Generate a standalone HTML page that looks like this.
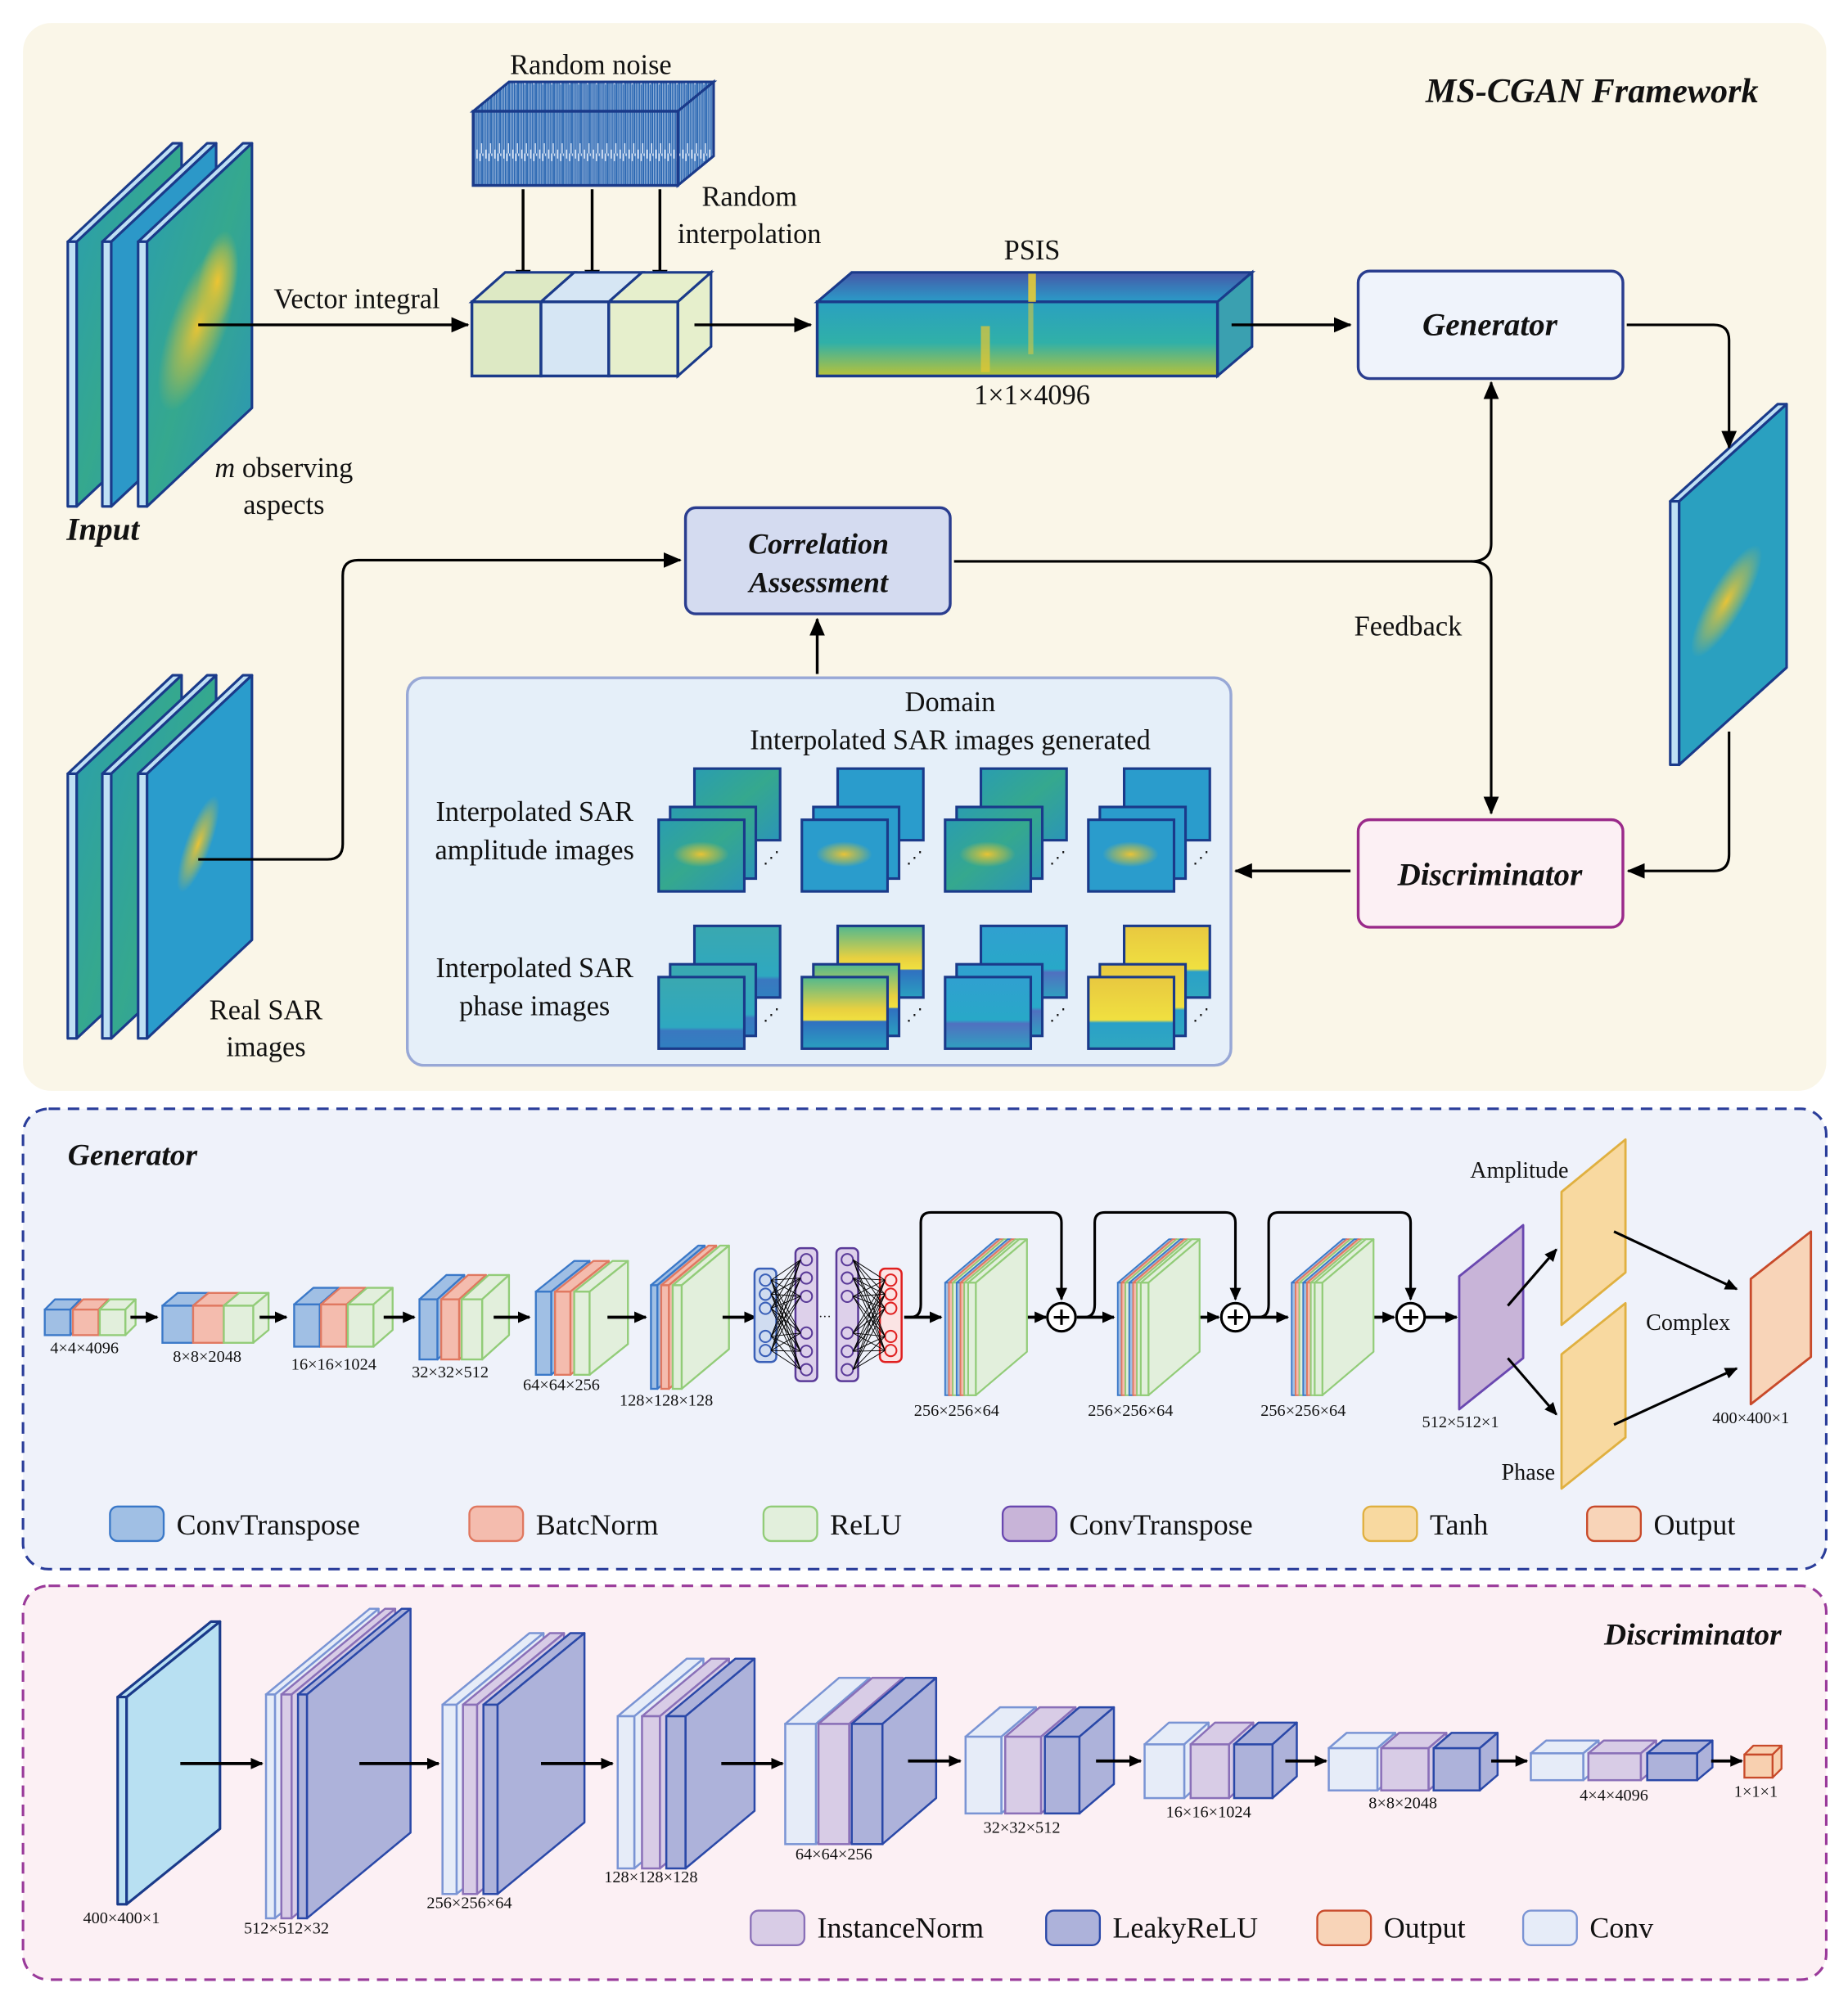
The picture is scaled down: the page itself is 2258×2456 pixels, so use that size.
<!DOCTYPE html>
<html><head><meta charset="utf-8">
<style>
html,body{margin:0;padding:0;background:#fff;}
svg{display:block;}
svg, svg text{font-family:"Liberation Serif","Times New Roman",Times,serif;}
text{fill:#111;}
.bi{font-weight:bold;font-style:italic;}
</style></head>
<body>
<svg id="s" xmlns="http://www.w3.org/2000/svg" width="2258" height="2456" viewBox="0 0 1445 1571.7" preserveAspectRatio="none" font-family="Liberation Serif, Times New Roman, serif">
<defs>
<marker id="ar" markerWidth="14" markerHeight="12" refX="13" refY="6" orient="auto" markerUnits="userSpaceOnUse"><path d="M0,0 L14,6 L0,12 Z" fill="#000"/></marker>
<marker id="as" markerWidth="10" markerHeight="9" refX="9" refY="4.5" orient="auto" markerUnits="userSpaceOnUse"><path d="M0,0 L10,4.5 L0,9 Z" fill="#000"/></marker>
<linearGradient id="sar" x1="0" y1="0" x2="1" y2="1"><stop offset="0" stop-color="#2a9db0"/><stop offset="0.5" stop-color="#35a88e"/><stop offset="1" stop-color="#2b95b8"/></linearGradient>
<radialGradient id="blob" cx="0.5" cy="0.5" r="0.5"><stop offset="0" stop-color="#f2c530" stop-opacity="0.95"/><stop offset="0.6" stop-color="#c8c040" stop-opacity="0.5"/><stop offset="1" stop-color="#c8c040" stop-opacity="0"/></radialGradient>
<linearGradient id="psis" x1="0" y1="0" x2="0" y2="1"><stop offset="0" stop-color="#2aa0c0"/><stop offset="0.55" stop-color="#30b0a8"/><stop offset="1" stop-color="#b8c238"/></linearGradient>
<linearGradient id="psistop" x1="0" y1="0" x2="0" y2="1"><stop offset="0" stop-color="#4658a8"/><stop offset="1" stop-color="#2a9cc8"/></linearGradient>
<pattern id="noise" width="7" height="60" patternUnits="userSpaceOnUse"><rect width="7" height="60" fill="#c8d8ee"/><path d="M0.7,0V60M2,4V57M3.2,0V60M4.4,6V60M5.6,0V52M6.5,2V60" stroke="#1f5fae" stroke-width="0.8"/></pattern>
<linearGradient id="ph1" x1="0" y1="0" x2="0" y2="1"><stop offset="0" stop-color="#3aa8b0"/><stop offset="0.7" stop-color="#2ea8c0"/><stop offset="0.75" stop-color="#3a78c0"/><stop offset="1" stop-color="#3080c0"/></linearGradient>
<linearGradient id="ph2" x1="0" y1="0" x2="0" y2="1"><stop offset="0" stop-color="#50b890"/><stop offset="0.45" stop-color="#e8d040"/><stop offset="0.6" stop-color="#f0e040"/><stop offset="0.62" stop-color="#3070c0"/><stop offset="1" stop-color="#2aa0c0"/></linearGradient>
<linearGradient id="ph3" x1="0" y1="0" x2="0" y2="1"><stop offset="0" stop-color="#30a0d0"/><stop offset="0.6" stop-color="#28a8c8"/><stop offset="0.65" stop-color="#5070c0"/><stop offset="1" stop-color="#30a0c0"/></linearGradient>
<linearGradient id="ph4" x1="0" y1="0" x2="0" y2="1"><stop offset="0" stop-color="#e8c840"/><stop offset="0.6" stop-color="#f0e040"/><stop offset="0.64" stop-color="#2aa0c8"/><stop offset="1" stop-color="#30a8c0"/></linearGradient>
</defs>

<rect x="18" y="18" width="1410" height="835" rx="22" fill="#faf6e8"/>
<text x="1375" y="80" font-size="27" class="bi" text-anchor="end">MS-CGAN Framework</text>

<g id="dyn"></g>

<text x="52" y="422" font-size="25" class="bi">Input</text>
<text x="222" y="373" font-size="22" text-anchor="middle"><tspan font-style="italic">m</tspan> observing</text>
<text x="222" y="402" font-size="22" text-anchor="middle">aspects</text>
<line x1="155" y1="254" x2="366" y2="254" stroke="#000" stroke-width="2.2" marker-end="url(#ar)"/>
<text x="279" y="241" font-size="22" text-anchor="middle">Vector integral</text>

<text x="462" y="58" font-size="22" text-anchor="middle">Random noise</text>
<polygon points="370,87 398,64 558,64 530,87" fill="url(#noise)" stroke="#1a3a8a" stroke-width="2"/>
<polygon points="530,87 558,64 558,122 530,145" fill="url(#noise)" stroke="#1a3a8a" stroke-width="2"/>
<rect x="370" y="87" width="160" height="58" fill="url(#noise)" stroke="#1a3a8a" stroke-width="2.2"/>
<line x1="409" y1="148" x2="409" y2="224" stroke="#000" stroke-width="2.2" marker-end="url(#ar)"/>
<line x1="463" y1="148" x2="463" y2="224" stroke="#000" stroke-width="2.2" marker-end="url(#ar)"/>
<line x1="516" y1="148" x2="516" y2="224" stroke="#000" stroke-width="2.2" marker-end="url(#ar)"/>
<text x="586" y="161" font-size="22" text-anchor="middle">Random</text>
<text x="586" y="190" font-size="22" text-anchor="middle">interpolation</text>

<polygon points="369,236 395,213 449,213 423,236" fill="#dde9c4" stroke="#1a3a8a" stroke-width="2"/>
<polygon points="423,236 449,213 502,213 476,236" fill="#d6e6f4" stroke="#1a3a8a" stroke-width="2"/>
<polygon points="476,236 502,213 556,213 530,236" fill="#e6efcc" stroke="#1a3a8a" stroke-width="2"/>
<polygon points="530,236 556,213 556,271 530,294" fill="#e6efcc" stroke="#1a3a8a" stroke-width="2"/>
<rect x="369" y="236" width="54" height="58" fill="#dde9c4" stroke="#1a3a8a" stroke-width="2.2"/>
<rect x="423" y="236" width="53" height="58" fill="#d6e6f4" stroke="#1a3a8a" stroke-width="2.2"/>
<rect x="476" y="236" width="54" height="58" fill="#e6efcc" stroke="#1a3a8a" stroke-width="2.2"/>
<line x1="543" y1="254" x2="634" y2="254" stroke="#000" stroke-width="2.2" marker-end="url(#ar)"/>

<text x="807" y="203" font-size="22" text-anchor="middle">PSIS</text>
<polygon points="639,236 666,213 979,213 952,236" fill="url(#psistop)" stroke="#1a3a8a" stroke-width="2"/>
<polygon points="952,236 979,213 979,271 952,294" fill="#3aa0b0" stroke="#1a3a8a" stroke-width="2"/>
<rect x="639" y="236" width="313" height="58" fill="url(#psis)" stroke="#1a3a8a" stroke-width="2.2"/>
<rect x="804" y="214" width="6" height="22" fill="#f0d030" opacity="0.85"/>
<rect x="767" y="255" width="7" height="36" fill="#e8c830" opacity="0.7"/>
<rect x="804" y="237" width="4" height="40" fill="#d8c840" opacity="0.6"/>
<text x="807" y="316" font-size="22" text-anchor="middle">1×1×4096</text>
<line x1="963" y1="254" x2="1056" y2="254" stroke="#000" stroke-width="2.2" marker-end="url(#ar)"/>

<rect x="1062" y="212" width="207" height="84" rx="9" fill="#eff3fb" stroke="#2a3d8f" stroke-width="2.2"/>
<text x="1165" y="262" font-size="25" class="bi" text-anchor="middle">Generator</text>
<path d="M1272,254 H1340 Q1352,254 1352,266 V350" fill="none" stroke="#000" stroke-width="2" marker-end="url(#ar)"/>
<path d="M1352,572 V668 Q1352,681 1340,681 H1273" fill="none" stroke="#000" stroke-width="2" marker-end="url(#ar)"/>

<rect x="1062" y="641" width="207" height="84" rx="9" fill="#fcf0f4" stroke="#9a2a8a" stroke-width="2.2"/>
<text x="1165" y="692" font-size="25" class="bi" text-anchor="middle">Discriminator</text>
<line x1="1056" y1="681" x2="966" y2="681" stroke="#000" stroke-width="2.2" marker-end="url(#ar)"/>

<rect x="536" y="397" width="207" height="83" rx="8" fill="#d4dbf0" stroke="#2a3d8f" stroke-width="2.2"/>
<text x="640" y="433" font-size="23" class="bi" text-anchor="middle">Correlation</text>
<text x="640" y="463" font-size="23" class="bi" text-anchor="middle">Assessment</text>
<path d="M746,439 H1150 Q1166,439 1166,425 V299" fill="none" stroke="#000" stroke-width="2" marker-end="url(#ar)"/>
<path d="M1150,439 Q1166,439 1166,453 V636" fill="none" stroke="#000" stroke-width="2" marker-end="url(#ar)"/>
<text x="1101" y="497" font-size="22" text-anchor="middle">Feedback</text>
<path d="M155,672 H256 Q268,672 268,660 V450 Q268,438 280,438 H532" fill="none" stroke="#000" stroke-width="2" marker-end="url(#ar)"/>
<line x1="639" y1="527" x2="639" y2="484" stroke="#000" stroke-width="2.2" marker-end="url(#ar)"/>

<text x="208" y="797" font-size="22" text-anchor="middle">Real SAR</text>
<text x="208" y="826" font-size="22" text-anchor="middle">images</text>

<rect x="318.5" y="530" width="644" height="303" rx="13" fill="#e5eff9" stroke="#98a8d6" stroke-width="2.2"/>
<text x="743" y="556" font-size="22" text-anchor="middle">Domain</text>
<text x="743" y="586" font-size="22" text-anchor="middle">Interpolated SAR images generated</text>
<text x="418" y="642" font-size="22" text-anchor="middle">Interpolated SAR</text>
<text x="418" y="672" font-size="22" text-anchor="middle">amplitude images</text>
<text x="418" y="764" font-size="22" text-anchor="middle">Interpolated SAR</text>
<text x="418" y="794" font-size="22" text-anchor="middle">phase images</text>

<rect x="18" y="867" width="1410" height="360" rx="20" fill="#eff2fa" stroke="#2a3d9a" stroke-width="2" stroke-dasharray="9,6"/>
<text x="53" y="911" font-size="24" class="bi">Generator</text>

<rect x="18" y="1240" width="1410" height="308" rx="20" fill="#fcf0f4" stroke="#9a3a9a" stroke-width="2" stroke-dasharray="9,6"/>
<text x="1393" y="1286" font-size="24" class="bi" text-anchor="end">Discriminator</text>

<g id="dyn2"></g>
</svg>
<script>
var NS="http://www.w3.org/2000/svg";
var g=document.getElementById("dyn"), g2=document.getElementById("dyn2");
function el(p,tag,a,txt){var e=document.createElementNS(NS,tag);for(var k in a)e.setAttribute(k,a[k]);if(txt!==undefined)e.textContent=txt;p.appendChild(e);return e;}
function poly(p,pts,fill,stroke,sw){return el(p,"polygon",{points:pts.map(function(q){return q.join(",")}).join(" "),fill:fill,stroke:stroke,"stroke-width":sw||1.5,"stroke-linejoin":"round"});}
function box(p,x,y,w,h,dx,dy,fill,stroke,sw,sideFill){
  poly(p,[[x,y],[x+dx,y+dy],[x+w+dx,y+dy],[x+w,y]],fill,stroke,sw);
  poly(p,[[x+w,y],[x+w+dx,y+dy],[x+w+dx,y+h+dy],[x+w,y+h]],sideFill||fill,stroke,sw);
  el(p,"rect",{x:x,y:y,width:w,height:h,fill:fill,stroke:stroke,"stroke-width":sw||1.5});
}
function sheet(p,x0,yb,yt,dx,dy,edge,face,stroke,blobs){
  var e=7;
  poly(p,[[x0,yt],[x0+e,yt],[x0+e+dx,yt+dy],[x0+dx,yt+dy]],edge,stroke,2);
  poly(p,[[x0,yb],[x0,yt],[x0+e,yt],[x0+e,yb]],edge,stroke,2);
  poly(p,[[x0+e,yb],[x0+e,yt],[x0+e+dx,yt+dy],[x0+e+dx,yb+dy]],face,stroke,2);
  (blobs||[]).forEach(function(b){el(p,"ellipse",{cx:b[0],cy:b[1],rx:b[2],ry:b[3],fill:"url(#blob)",transform:"rotate("+(b[4]||-40)+" "+b[0]+" "+b[1]+")"});});
}
function line(p,x1,y1,x2,y2,m,sw){el(p,"line",{x1:x1,y1:y1,x2:x2,y2:y2,stroke:"#000","stroke-width":sw||2,"marker-end":m?"url(#"+m+")":""});}
function txt(p,x,y,s,size,anchor){el(p,"text",{x:x,y:y,"font-size":size,"text-anchor":anchor||"middle"},s);}

sheet(g,53,396,189,82,-77,"#bfe0f4","url(#sar)","#1a3a8a");
sheet(g,80,396,189,82,-77,"#bfe0f4","#2c98c8","#1a3a8a");
sheet(g,108,396,189,82,-77,"#bfe0f4","url(#sar)","#1a3a8a",[[155,255,22,70,20],[170,220,15,40,10]]);
sheet(g,53,812,605,82,-77,"#bfe0f4","url(#sar)","#1a3a8a");
sheet(g,80,812,605,82,-77,"#bfe0f4","url(#sar)","#1a3a8a");
sheet(g,108,812,605,82,-77,"#bfe0f4","#2a9ccc","#1a3a8a",[[155,660,10,40,20]]);
sheet(g,1306,598,392,84,-76,"#bfe0f4","#2aa0c0","#1a3a8a",[[1350,470,14,50,30]]);

var cols=[515,627,739,851];
var amp=["url(#sar)","#2a9ccc","url(#sar)","#2a9ccc"];
var ph=["url(#ph1)","url(#ph2)","url(#ph3)","url(#ph4)"];
function thumbs(y0,fills,blob){
  cols.forEach(function(x,i){
    el(g2,"rect",{x:x+28,y:y0,width:67,height:56,fill:fills[i],stroke:"#1a3a8a","stroke-width":2});
    el(g2,"rect",{x:x+9,y:y0+30,width:67,height:56,fill:fills[i],stroke:"#1a3a8a","stroke-width":2});
    el(g2,"rect",{x:x,y:y0+40,width:67,height:56,fill:fills[i],stroke:"#1a3a8a","stroke-width":2});
    if(blob) el(g2,"ellipse",{cx:x+33,cy:y0+67,rx:22,ry:10,fill:"url(#blob)"});
    txt(g2,x+88,y0+74,"⋰",13);
  });
}
thumbs(601,amp,true);
thumbs(724,ph,false);

var B=["#a0bfe4","#3a78c8"],R=["#f4bcae","#e07860"],G=["#e2efdc","#92cc78"];
function grp(list,y,h,dx,dy){list.forEach(function(b){box(g2,b[0],y,b[1],h,dx,dy,b[2][0],b[2][1],1.5);});}
grp([[35,20,B],[57,20,R],[78,20,G]],1024,20,8,-8);
grp([[127,24,B],[151,24,R],[175,23,G]],1021,29,12,-10);
grp([[230,20,B],[251,20,R],[272,20,G]],1020,33,15,-13);
grp([[328,14,B],[345,14,R],[361,16,G]],1016,47,21,-19);
grp([[419,12,B],[434,12,R],[449,12,G]],1010,65,30,-24);
grp([[509,5,B],[517,6,R],[526,7,G]],1005,81,37,-31);
var lab=[[66,1058,"4×4×4096"],[162,1065,"8×8×2048"],[261,1071,"16×16×1024"],[352,1077,"32×32×512"],[439,1087,"64×64×256"],[521,1099,"128×128×128"],
 [748,1107,"256×256×64"],[884,1107,"256×256×64"],[1019,1107,"256×256×64"],[1142,1116,"512×512×1"],[1369,1113,"400×400×1"]];
lab.forEach(function(l){txt(g2,l[0],l[1],l[2],13);});
[[102,123],[203,224],[300,324],[386,414],[475,505],[565,591],[707,736],[788,818],[842,871],[923,953],[976,1007],[1060,1090],[1114,1139]].forEach(function(a){line(g2,a[0],1030,a[1],1030,"as",2.4);});

function col(x,y1,y2,fill,stroke,n){
  el(g2,"rect",{x:x,y:y1,width:17,height:y2-y1,rx:4,fill:fill,stroke:stroke,"stroke-width":1.6});
  var ys=[];for(var i=0;i<n;i++){var yy=y1+9+i*(y2-y1-18)/(n-1);ys.push(yy);if(n>4&&(i==Math.floor(n/2)))continue;el(g2,"circle",{cx:x+8.5,cy:yy,r:4.5,fill:fill,stroke:stroke,"stroke-width":1.3});}
  return ys;
}
var c1=col(590,992,1065,"#d0dcf0","#3a60b8",6),c2=col(622,976,1080,"#ddd0ea","#5a3a98",7),c3=col(654,976,1080,"#ddd0ea","#5a3a98",7),c4=col(688,992,1065,"#fbe4e4","#e02020",6);
function conn(a,xa,b,xb){a.forEach(function(ya,i){if(i==3)return;b.forEach(function(yb,j){if(j==3)return;el(g2,"line",{x1:xa,y1:ya,x2:xb,y2:yb,stroke:"#000","stroke-width":0.6});});});}
conn(c1,603,c2,626);conn(c3,667,c4,692);
txt(g2,645,1033,"···",10);

function res(x){
  var cs=[B,R,G,B,R,G];
  for(var i=0;i<6;i++){box(g2,x+i*3,1003,3,88,40,-34,cs[i][0],cs[i][1],1.2);}
  box(g2,x+18,1003,6,88,40,-34,G[0],G[1],1.4);
}
res(739);res(874);res(1010);
[830,966,1103].forEach(function(cx,i){
  el(g2,"circle",{cx:cx,cy:1030,r:11,fill:"#fff",stroke:"#000","stroke-width":2});
  el(g2,"path",{d:"M"+(cx-6)+",1030H"+(cx+6)+"M"+cx+",1024V1036",stroke:"#000","stroke-width":2});
  var sx=[720,856,992][i];
  el(g2,"path",{d:"M"+(sx-8)+",1030 Q"+sx+",1030 "+sx+",1020 V956 Q"+sx+",948 "+(sx+8)+",948 H"+(cx-8)+" Q"+cx+",948 "+cx+",956 V1016",fill:"none",stroke:"#000","stroke-width":2,"marker-end":"url(#as)"});
});
poly(g2,[[1141,1102],[1141,998],[1191,958],[1191,1062]],"#c8b4d8","#6a48b0",1.8);
poly(g2,[[1221,1036],[1221,932],[1271,891],[1271,995]],"#f8d9a0","#e0b040",1.8);
poly(g2,[[1221,1164],[1221,1059],[1271,1019],[1271,1124]],"#f8d9a0","#e0b040",1.8);
poly(g2,[[1369,1098],[1369,1000],[1416,963],[1416,1061]],"#f8d4b8","#c84a2a",1.8);
line(g2,1179,1021,1217,977,"as",2);line(g2,1179,1062,1217,1106,"as",2);
line(g2,1262,963,1358,1008,"as",2);line(g2,1262,1114,1358,1070,"as",2);
txt(g2,1188,921,"Amplitude",18);txt(g2,1320,1040,"Complex",18);txt(g2,1195,1157,"Phase",18);

var lg=[[86,"#a0bfe4","#3a78c8","ConvTranspose"],[367,"#f4bcae","#e07860","BatcNorm"],[597,"#e2efdc","#92cc78","ReLU"],[784,"#c8b4d8","#6a48b0","ConvTranspose"],[1066,"#f8d9a0","#e0b040","Tanh"],[1241,"#f8d4b8","#c84a2a","Output"]];
lg.forEach(function(l){el(g2,"rect",{x:l[0],y:1178,width:42,height:27,rx:6,fill:l[1],stroke:l[2],"stroke-width":1.5});txt(g2,l[0]+52,1200,l[3],23,"start");});

var Cv=["#e6ecf8","#7a94d4"],In=["#d8cce6","#8a70b8"],Lk=["#adb2da","#2a48a8"];
sheet(g2,92,1489,1327,73,-59,"#b8e0f2","#b8e0f2","#1a3a8a");
function dg(list,y,h,dx,dy){list.forEach(function(b){box(g2,b[0],y,b[1],h,dx,dy,b[2][0],b[2][1],1.6);});}
dg([[208,7,Cv],[220,8,In],[233,7,Lk]],1325,175,81,-67);
dg([[346,11,Cv],[362,11,In],[378,11,Lk]],1333,148,68,-56);
dg([[483,13,Cv],[502,14,In],[521,15,Lk]],1342,119,54,-45);
dg([[614,24,Cv],[640,24,In],[666,24,Lk]],1348,94,42,-36);
dg([[755,28,Cv],[786,28,In],[817,27,Lk]],1358,60,27,-23);
dg([[895,31,Cv],[931,30,In],[965,30,Lk]],1364,42,19,-17);
dg([[1039,38,Cv],[1080,37,In],[1121,36,Lk]],1367,33,14,-12);
dg([[1197,41,Cv],[1242,41,In],[1288,39,Lk]],1371,21,12,-10);
box(g2,1364,1372,22,18,7,-7,"#f8d0b0","#c84a2a",1.5);
[[141,1379,205],[281,1379,343],[423,1379,479],[564,1379,612],[710,1377,751],[857,1377,892],[1005,1377,1037],[1166,1377,1194],[1338,1377,1362]].forEach(function(a){line(g2,a[0],a[1],a[2],a[1],"as",2.4);});
[[95,1504,"400×400×1"],[224,1512,"512×512×32"],[367,1492,"256×256×64"],[509,1472,"128×128×128"],[652,1454,"64×64×256"],[799,1433,"32×32×512"],[945,1421,"16×16×1024"],[1097,1414,"8×8×2048"],[1262,1408,"4×4×4096"],[1373,1405,"1×1×1"]].forEach(function(l){txt(g2,l[0],l[1],l[2],13);});
var ld=[[587,"#d8cce6","#8a70b8","InstanceNorm"],[818,"#adb2da","#2a48a8","LeakyReLU"],[1030,"#f8d4b8","#c84a2a","Output"],[1191,"#e6ecf8","#7a94d4","Conv"]];
ld.forEach(function(l){el(g2,"rect",{x:l[0],y:1494,width:42,height:27,rx:6,fill:l[1],stroke:l[2],"stroke-width":1.5});txt(g2,l[0]+52,1515,l[3],23,"start");});
</script>
</body></html>
